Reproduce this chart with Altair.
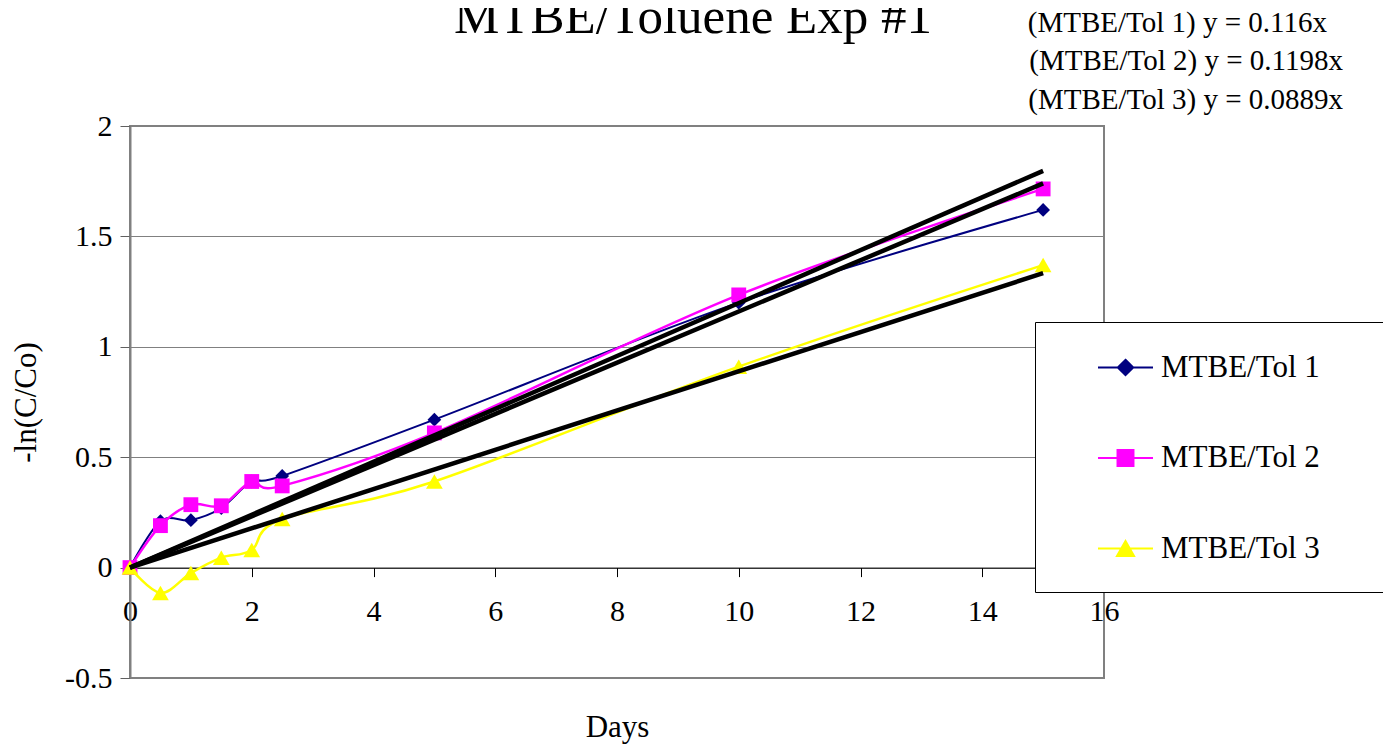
import altair as alt
import pandas as pd

# Readings from the reference chart
days = [0, 0.5, 1, 1.5, 2, 2.5, 5, 10, 15]
tol_1 = [0, 0.21, 0.215, 0.27, 0.39, 0.415, 0.67, 1.20, 1.62]
tol_2 = [0, 0.19, 0.285, 0.28, 0.39, 0.37, 0.61, 1.235, 1.715]
tol_3 = [0, -0.115, -0.025, 0.045, 0.08, 0.22, 0.39, 0.91, 1.37]
series_names = ["MTBE/Tol 1", "MTBE/Tol 2", "MTBE/Tol 3"]

# Trendlines through the origin, from the equations on the chart
fit_slopes = [0.116, 0.1198, 0.0889]
fit_days = [0, 15]
equations = ["(MTBE/Tol 1) y = 0.116x", "(MTBE/Tol 2) y = 0.1198x",
             "(MTBE/Tol 3) y = 0.0889x"]
chart_title = "MTBE/Toluene Exp #1"

x_ticks = [0, 2, 4, 6, 8, 10, 12, 14, 16]
y_ticks = [-0.5, 0, 0.5, 1, 1.5, 2]

series_colors = ["#000080", "#FF00FF", "#FFFF00"]
point_shapes = ["diamond", "square", "triangle-up"]
point_sizes = [190, 220, 280]
line_widths = [2, 2.5, 2.5]
# legend symbol = short line with the marker in the middle; the lone
# moveTo at the end only stretches the legend frame to the right
legend_paths = [
    "M-1,0H1M0,-0.28L0.28,0L0,0.28L-0.28,0ZM8.75,0",
    "M-1,0H1M-0.29,-0.29H0.29V0.29H-0.29ZM8.75,0",
    "M-1,0H1M0,-0.27L0.31,0.27L-0.31,0.27ZM8.75,0",
]

FONT = "Liberation Serif"

obs = pd.DataFrame({
    "day": days * 3,
    "value": tol_1 + tol_2 + tol_3,
    "series": [s for s in series_names for _ in days],
})

fit = pd.DataFrame({
    "day": fit_days * 3,
    "value": [k * d for k in fit_slopes for d in fit_days],
    "series": [s for s in series_names for _ in fit_days],
})

x_enc = alt.X(
    "day:Q",
    scale=alt.Scale(domain=[0, 16], nice=False),
    axis=alt.Axis(
        values=x_ticks, labelExpr="'' + datum.value", offset=-110.4,
        grid=False, domainColor="black", domainWidth=1, tickColor="black",
        tickSize=9, labelPadding=20, labelFontSize=30, labelFlush=False,
        labelFont=FONT, title="Days", titleFont=FONT, titleFontSize=31,
        titleFontWeight="normal", titleY=169, titleBaseline="alphabetic"),
)
y_enc = alt.Y(
    "value:Q",
    scale=alt.Scale(domain=[-0.5, 2], nice=False),
    axis=alt.Axis(
        values=y_ticks, labelExpr="'' + datum.value", grid=True,
        gridColor="#808080", gridWidth=1, domainColor="#808080",
        domainWidth=2, tickColor="#606060", tickSize=10, labelPadding=8,
        labelFontSize=30, labelFlush=False, labelFont=FONT,
        title="-ln(C/Co)", titleFont=FONT, titleFontSize=31,
        titleFontWeight="normal", titlePadding=22),
)

layers = []
for name, col, shp, sz, lw in zip(series_names, series_colors, point_shapes,
                                  point_sizes, line_widths):
    base = alt.Chart(obs).transform_filter(alt.datum.series == name)
    layers.append(base.mark_line(color=col, strokeWidth=lw,
                                 interpolate="cardinal")
                  .encode(x=x_enc, y=y_enc))
    layers.append(base.mark_point(filled=True, shape=shp, size=sz,
                                  color=col, opacity=1)
                  .encode(x=x_enc, y=y_enc))

# Black linear trendlines, drawn on top
trend = alt.Chart(fit).mark_line(color="black", strokeWidth=4.5).encode(
    x=x_enc, y=y_enc, detail="series:N")
layers.append(trend)

# Legend only: no marks drawn, scales carry the three series.
# The hidden bottom title adds the space under the last entry.
legend = alt.Legend(
    title=".", titleOrient="bottom", titleOpacity=0, titleFontSize=2,
    titlePadding=9, orient="none", legendX=905, legendY=196,
    fillColor="white", strokeColor="black", padding=17,
    symbolSize=3025, symbolStrokeWidth=2, symbolOffset=45, rowPadding=46.5,
    labelFont=FONT, labelFontSize=31, labelLimit=400, labelOffset=7)
key_layer = (
    alt.Chart(obs).transform_filter("false")
    .mark_point(filled=True, opacity=1)
    .encode(
        x=x_enc, y=y_enc,
        fill=alt.Fill("series:N", scale=alt.Scale(domain=series_names,
                      range=series_colors), legend=legend),
        stroke=alt.Stroke("series:N", scale=alt.Scale(domain=series_names,
                          range=series_colors), legend=legend),
        shape=alt.Shape("series:N", scale=alt.Scale(domain=series_names,
                        range=legend_paths), legend=legend),
    )
)
layers.append(key_layer)

# Trendline equations, top right
eq_x = [1197, 1213, 1213]
eq_y = [-103, -65, -26]
for txt, ex, ey in zip(equations, eq_x, eq_y):
    layers.append(
        alt.Chart(pd.DataFrame({"t": [txt]}))
        .mark_text(font=FONT, fontSize=29, align="right", baseline="middle",
                   color="black")
        .encode(text="t:N", x=alt.value(ex), y=alt.value(ey)))

# Chart title, cropped at the top edge as in the original
layers.append(
    alt.Chart(pd.DataFrame({"t": [chart_title]}))
    .mark_text(font=FONT, fontSize=51, align="center",
               baseline="alphabetic", color="black")
    .encode(text="t:N", x=alt.value(563), y=alt.value(-93)))

chart = (
    alt.layer(*layers)
    .properties(
        width=974, height=552, autosize="none",
        padding={"left": 122, "top": 118, "right": 279, "bottom": 66})
    .configure_view(stroke="#808080", strokeWidth=2)
    .configure_axis(labelColor="black", titleColor="black")
)

chart.save("out.html", embed_options={"renderer": "svg", "actions": False})
